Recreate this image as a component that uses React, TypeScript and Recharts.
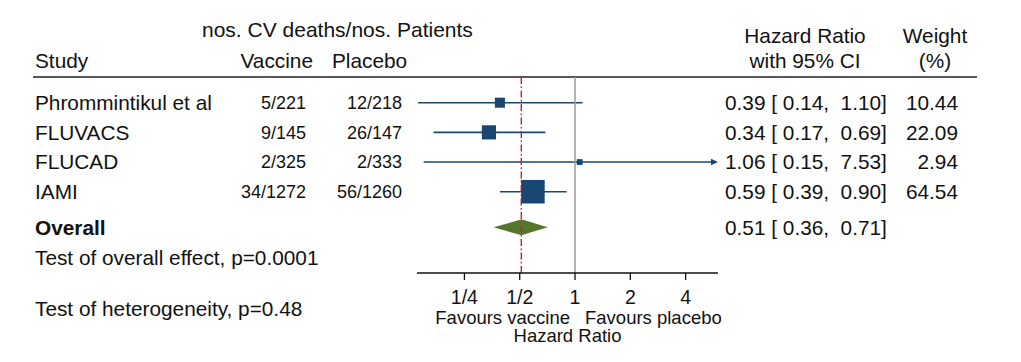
import React from 'react';
import {
  ComposedChart,
  Scatter,
  XAxis,
  YAxis,
  ReferenceLine,
  ReferenceArea,
  Customized,
} from 'recharts';

// ---------------- data ----------------
const studies = ['Phrommintikul et al', 'FLUVACS', 'FLUCAD', 'IAMI'];
const vaccineDeaths = [5, 9, 2, 34];
const vaccinePatients = [221, 145, 325, 1272];
const placeboDeaths = [12, 26, 2, 56];
const placeboPatients = [218, 147, 333, 1260];
const hazardRatio = [0.39, 0.34, 1.06, 0.59];
const ciLower = [0.14, 0.17, 0.15, 0.39];
const ciUpper = [1.1, 0.69, 7.53, 0.9];
const weights = [10.44, 22.09, 2.94, 64.54];

const overallHR = 0.51;
const overallLower = 0.36;
const overallUpper = 0.71;

const tickValues = [0.25, 0.5, 1, 2, 4];
const tickLabels = ['1/4', '1/2', '1', '2', '4'];

const overallEffectText = 'Test of overall effect, p=0.0001';
const heterogeneityText = 'Test of heterogeneity, p=0.48';

// ---------------- style / layout ----------------
const FONT = '"Liberation Sans", Arial, Helvetica, sans-serif';
const TEXT = '#111111';
const BLUE = '#1a4672';
const GREEN = '#56762d';
const RED = '#e8141c';
const GREY = '#9c9c9c';
const FS = 20.8;
const FS_NUM = 18;

const X_MIN = 0.138;
const X_MAX = 6;
const Y_DOMAIN: [number, number] = [-0.866, 5.74];
const OVERALL_ROW = 4.2;
const DIAMOND_HALF = 0.27;

const fmt = (v: number) => v.toFixed(2);
const hrText = (e: number, l: number, u: number) => `${fmt(e)} [ ${fmt(l)},  ${fmt(u)}]`;

const rows = studies.map((name, i) => ({
  name,
  x: hazardRatio[i],
  y: i,
  lo: ciLower[i],
  hi: ciUpper[i],
  w: weights[i],
  vac: `${vaccineDeaths[i]}/${vaccinePatients[i]}`,
  pla: `${placeboDeaths[i]}/${placeboPatients[i]}`,
}));

const overallRow = [{ x: overallHR, y: OVERALL_ROW }];

const textProps = {
  fontFamily: FONT,
  fill: TEXT,
  xmlSpace: 'preserve' as any,
  style: { whiteSpace: 'pre' as const },
};

const StudyShape = (props: any) => {
  const { cx, cy, payload } = props;
  const s = 2.8 * Math.sqrt(payload.w) + 1;
  const base = cy + 0.358 * FS;
  const baseNum = cy + 0.358 * FS_NUM;
  return (
    <g>
      <rect x={cx - s / 2} y={cy - s / 2} width={s} height={s} fill={BLUE} />
      <text {...textProps} x={35} y={base} fontSize={FS}>{payload.name}</text>
      <text {...textProps} x={306} y={baseNum} fontSize={FS_NUM} textAnchor="end">{payload.vac}</text>
      <text {...textProps} x={402} y={baseNum} fontSize={FS_NUM} textAnchor="end">{payload.pla}</text>
      <text {...textProps} x={725} y={base} fontSize={FS}>{hrText(payload.x, payload.lo, payload.hi)}</text>
      <text {...textProps} x={958} y={base} fontSize={FS} textAnchor="end">{payload.w.toFixed(2)}</text>
    </g>
  );
};

const OverallShape = (props: any) => {
  const { cy } = props;
  const base = cy + 0.358 * FS + 0.5;
  return (
    <g>
      <text {...textProps} x={35} y={base} fontSize={FS} fontWeight="bold">Overall</text>
      <text {...textProps} x={725} y={base} fontSize={FS}>{hrText(overallHR, overallLower, overallUpper)}</text>
    </g>
  );
};

const ciShape = (arrow: boolean) => (p: any) => (
  <g>
    <line x1={p.x1} y1={p.y1} x2={arrow ? p.x2 - 4 : p.x2} y2={p.y2} stroke={BLUE} strokeWidth={1.6} />
    {arrow && (
      <polygon
        points={`${p.x2},${p.y2} ${p.x2 - 7},${p.y2 - 3.2} ${p.x2 - 7},${p.y2 + 3.2}`}
        fill={BLUE}
      />
    )}
  </g>
);

const leftHalf = (p: any) => {
  const { x, y, width: w, height: h } = p;
  return <polygon points={`${x},${y + h / 2} ${x + w + 0.5},${y} ${x + w + 0.5},${y + h}`} fill={GREEN} />;
};
const rightHalf = (p: any) => {
  const { x, y, width: w, height: h } = p;
  return <polygon points={`${x},${y} ${x + w},${y + h / 2} ${x},${y + h}`} fill={GREEN} />;
};

const Annotations = () => (
  <g>
    <text {...textProps} x={202} y={36.5} fontSize={21}>nos. CV deaths/nos. Patients</text>
    <text {...textProps} x={35} y={68} fontSize={FS}>Study</text>
    <text {...textProps} x={313} y={68} fontSize={FS} textAnchor="end">Vaccine</text>
    <text {...textProps} x={332} y={68} fontSize={FS}>Placebo</text>
    <text {...textProps} x={805} y={42.5} fontSize={FS} textAnchor="middle">Hazard Ratio</text>
    <text {...textProps} x={805} y={68} fontSize={FS} textAnchor="middle">with 95% CI</text>
    <text {...textProps} x={935} y={42.5} fontSize={FS} textAnchor="middle">Weight</text>
    <text {...textProps} x={935} y={68} fontSize={FS} textAnchor="middle">(%)</text>
    <line x1={33} y1={77} x2={977} y2={77} stroke="#222" strokeWidth={1.6} />
    <text {...textProps} x={35} y={265} fontSize={FS}>{overallEffectText}</text>
    <text {...textProps} x={35} y={316} fontSize={FS}>{heterogeneityText}</text>
    <text {...textProps} x={570} y={324} fontSize={18.5} textAnchor="end">Favours vaccine</text>
    <text {...textProps} x={585} y={324} fontSize={18.5}>Favours placebo</text>
    <text {...textProps} x={567.5} y={342} fontSize={18.5} textAnchor="middle">Hazard Ratio</text>
  </g>
);

export default function App() {
  return (
    <div style={{ position: 'absolute', left: 0, top: 0, width: 1021, height: 362, background: '#fff' }}>
      <ComposedChart
        width={1021}
        height={362}
        margin={{ top: 77, right: 303, bottom: 59, left: 417 }}
      >
        <XAxis
          dataKey="x"
          type="number"
          scale="log"
          domain={[X_MIN, X_MAX]}
          ticks={tickValues}
          tickFormatter={(v: number) => tickLabels[tickValues.indexOf(v)] ?? String(v)}
          height={30}
          tickSize={7}
          tickMargin={10.5}
          interval={0}
          axisLine={{ stroke: '#111', strokeWidth: 1.3 }}
          tickLine={{ stroke: '#111', strokeWidth: 1.3 }}
          tick={{ fill: TEXT, fontSize: 19.5, fontFamily: FONT }}
        />
        <YAxis dataKey="y" type="number" domain={Y_DOMAIN} reversed hide />
        {rows.map((r) => (
          <ReferenceLine
            key={`ci-${r.name}`}
            segment={[
              { x: r.lo, y: r.y },
              { x: Math.min(r.hi, X_MAX), y: r.y },
            ]}
            ifOverflow="visible"
            shape={ciShape(r.hi > X_MAX)}
          />
        ))}
        <ReferenceArea
          x1={overallLower}
          x2={overallHR}
          y1={OVERALL_ROW - DIAMOND_HALF}
          y2={OVERALL_ROW + DIAMOND_HALF}
          ifOverflow="visible"
          shape={leftHalf}
        />
        <ReferenceArea
          x1={overallHR}
          x2={overallUpper}
          y1={OVERALL_ROW - DIAMOND_HALF}
          y2={OVERALL_ROW + DIAMOND_HALF}
          ifOverflow="visible"
          shape={rightHalf}
        />
        <ReferenceLine x={1} stroke={GREY} strokeWidth={1.5} ifOverflow="visible" />
        <ReferenceLine
          x={overallHR}
          stroke={RED}
          strokeWidth={1.4}
          strokeDasharray="7 2.5 1.5 2.5"
          ifOverflow="visible"
        />
        <Scatter data={rows} isAnimationActive={false} shape={StudyShape} />
        <Scatter data={overallRow} isAnimationActive={false} shape={OverallShape} />
        <Customized component={Annotations} />
      </ComposedChart>
    </div>
  );
}
